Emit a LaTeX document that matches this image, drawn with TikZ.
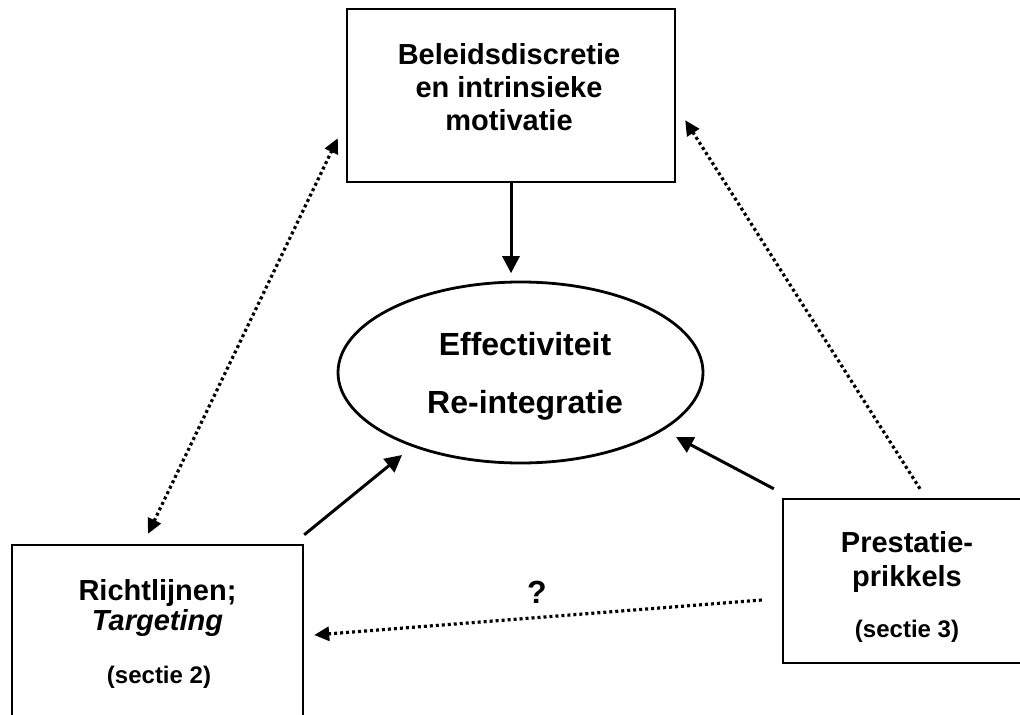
\documentclass[tikz,border=0pt]{standalone}
\usepackage{fontspec}
\setmainfont{Liberation Sans}
\usetikzlibrary{arrows.meta,shapes.geometric,calc}
\begin{document}
\begin{tikzpicture}[x=0.5pt,y=-0.5pt,
  boxnode/.style={draw,line width=1.2pt,inner sep=0pt,rectangle},
  ellnode/.style={draw,line width=1.4pt,ellipse,inner sep=0pt,minimum width=182.5pt,minimum height=90.5pt},
  boxtxt/.style={anchor=base,inner sep=0pt,font=\fontsize{14.5pt}{16.5pt}\selectfont\bfseries},
  elltxt/.style={anchor=base,inner sep=0pt,font=\fontsize{16pt}{18pt}\selectfont\bfseries},
  sectxt/.style={anchor=base,inner sep=0pt,font=\fontsize{12pt}{14pt}\selectfont\bfseries},
  solidarr/.style={line width=1.5pt,-{Triangle[length=8.5pt,width=8.5pt]}},
  dotarr/.style={line width=1.6pt,dash pattern=on 1.5pt off 1.5pt,-{Triangle[length=7.5pt,width=7pt]}},
  dotdbl/.style={line width=1.6pt,dash pattern=on 1.5pt off 1.5pt,{Triangle[length=7.5pt,width=7pt]}-{Triangle[length=7.5pt,width=7pt]}}
]
\useasboundingbox (0,0) rectangle (1020,715);
\clip (0,0) rectangle (1020,715);
\fill[white] (0,0) rectangle (1020,715);

% boxes and ellipse
\node[boxnode,minimum width=164pt,minimum height=86.5pt] (T) at (511,95.5) {};
\node[boxnode,minimum width=145.5pt,minimum height=92.5pt] (L) at (157.5,637.5) {};
\node[boxnode,minimum width=124pt,minimum height=82pt] (R) at (907,581) {};
\node[ellnode] (E) at (520.5,372.5) {};

% texts
\node[boxtxt] (t1) at (509,65) {Beleidsdiscretie};
\node[boxtxt] (t2) at (509,98) {en intrinsieke};
\node[boxtxt] (t3) at (509,131) {motivatie};

\node[elltxt] (e1) at (525,356) {Effectiviteit};
\node[elltxt] (e2) at (525,413) {Re-integratie};

\node[boxtxt] (l1) at (157.5,600) {Richtlijnen;};
\node[boxtxt] (l2) at (157.5,630) {\itshape Targeting};
\node[sectxt] (l3) at (159,683) {(sectie 2)};

\node[boxtxt] (r1) at (907,552) {Prestatie-};
\node[boxtxt] (r2) at (907,586) {prikkels};
\node[sectxt] (r3) at (907,637) {(sectie 3)};

\node[elltxt,anchor=center] (q) at (537,592) {?};

% connector end points
\coordinate (aTe) at ($(T.south)+(0,90)$);
\coordinate (aLs) at ($(L.north east)+(0,-9)$);
\coordinate (aLe) at ($(E.center)+(-118.5,82.5)$);
\coordinate (aRs) at ($(R.north west)+(-8,-9)$);
\coordinate (aRe) at ($(E.center)+(155.5,64.5)$);
\coordinate (dL1) at ($(L.north)+(-9.5,-10)$);
\coordinate (dT1) at ($(T.south west)+(-8,-45)$);
\coordinate (dR2) at ($(R.north)+(13,-9)$);
\coordinate (dT2) at ($(T.south east)+(9,-63)$);
\coordinate (dR3) at ($(R.west)+(-20,19)$);
\coordinate (dL3) at ($(L.east)+(10,-2.5)$);

% connectors
\draw[solidarr] (T.south) -- (aTe);
\draw[solidarr] (aLs) -- (aLe);
\draw[solidarr] (aRs) -- (aRe);
\draw[dotdbl] (dL1) -- (dT1);
\draw[dotarr] (dR2) -- (dT2);
\draw[dotarr] (dR3) -- (dL3);
\end{tikzpicture}
\end{document}
